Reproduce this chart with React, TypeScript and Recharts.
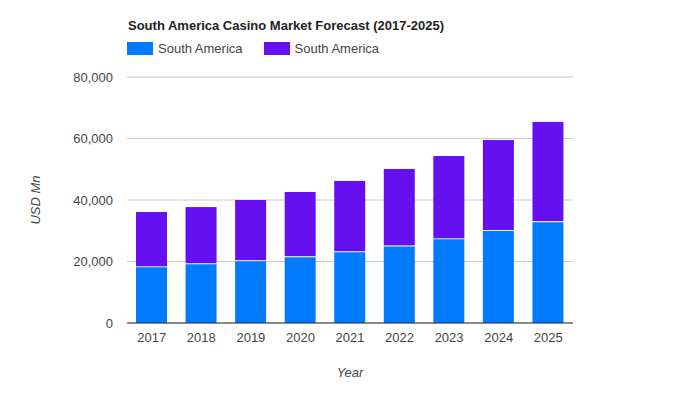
import React from "react";
import { BarChart, Bar, XAxis, YAxis, CartesianGrid } from "recharts";

const years = ["2017", "2018", "2019", "2020", "2021", "2022", "2023", "2024", "2025"];
const seriesA = [18100, 19100, 20100, 21400, 23000, 24900, 27200, 29900, 32800];
const seriesB = [18000, 18600, 19900, 21200, 23200, 25200, 27100, 29600, 32600];
const yTicks = [0, 20000, 40000, 60000, 80000];
const minorTicks = [0, 10000, 20000, 30000, 40000, 50000, 60000, 70000, 80000];
const seriesNames = ["South America", "South America"];
const colors = ["#007bff", "#6610f2"];
const title = "South America Casino Market Forecast (2017-2025)";

const data = years.map((y, i) => ({ year: y, a: seriesA[i], b: seriesB[i] }));

const FONT = "Arial, 'Liberation Sans', sans-serif";

const TopShape = (props: any) => {
  const { x, y, width, height, fill } = props;
  const h = Math.max(0, height - 1);
  return <rect x={x} y={y} width={width} height={h} fill={fill} />;
};

export default function App() {
  return (
    <div style={{ position: "absolute", left: 0, top: 0, width: 700, height: 400, background: "#fff", fontFamily: FONT }}>
      <div style={{ position: "absolute", left: 128, top: 18, fontSize: 13, fontWeight: "bold", color: "#222", whiteSpace: "nowrap" }}>
        {title}
      </div>
      <div style={{ position: "absolute", left: 127, top: 41, display: "flex", alignItems: "center", fontSize: 13, color: "#444" }}>
        {seriesNames.map((n, i) => (
          <div key={i} style={{ display: "flex", alignItems: "center", marginRight: 21 }}>
            <div style={{ width: 26, height: 13, background: colors[i], marginRight: 5 }} />
            <span>{n}</span>
          </div>
        ))}
      </div>
      <BarChart
        width={700}
        height={400}
        data={data}
        margin={{ top: 77, right: 127, left: 0, bottom: 47 }}
        barSize={31}
      >
        <CartesianGrid vertical={false} stroke="#ebebeb" yAxisId="minor" />
        <CartesianGrid vertical={false} stroke="#cccccc" />
        <XAxis
          dataKey="year"
          height={30}
          tickLine={false}
          tickSize={0}
          tickMargin={10}
          axisLine={{ stroke: "#333", strokeWidth: 1 }}
          tick={{ fontSize: 13, fill: "#444", fontFamily: FONT }}
          label={{ value: "Year", position: "insideBottom", offset: -24, fontSize: 13, fill: "#444", fontStyle: "italic", fontFamily: FONT }}
        />
        <YAxis yAxisId="minor" hide domain={[0, 80000]} ticks={minorTicks} />
        <YAxis
          width={127}
          domain={[0, 80000]}
          ticks={yTicks}
          tickFormatter={(v: number) => v.toLocaleString("en-US")}
          tickLine={false}
          axisLine={false}
          tickSize={0}
          tickMargin={14}
          tick={{ fontSize: 13, fill: "#444", fontFamily: FONT }}
          label={{ value: "USD Mn", angle: -90, position: "insideLeft", offset: 0, dx: 35, fontSize: 13, fill: "#444", fontStyle: "italic", fontFamily: FONT, style: { textAnchor: "middle" } }}
        />
        <Bar dataKey="a" stackId="s" fill={colors[0]} isAnimationActive={false} name={seriesNames[0]} />
        <Bar dataKey="b" stackId="s" fill={colors[1]} isAnimationActive={false} name={seriesNames[1]} shape={<TopShape />} />
      </BarChart>
    </div>
  );
}
